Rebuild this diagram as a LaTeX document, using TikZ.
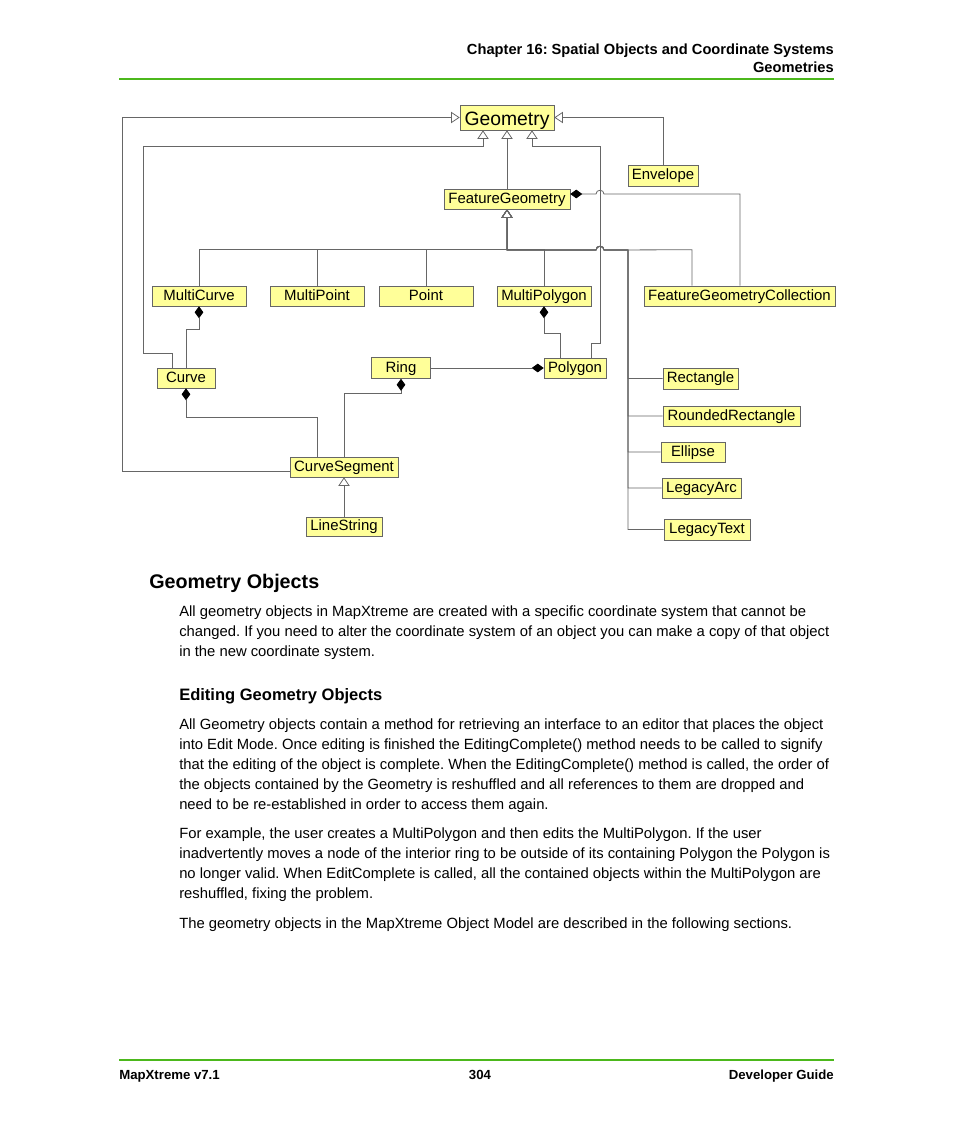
\documentclass[tikz,border=0pt]{standalone}
\usepackage{fontspec}
\setmainfont{Liberation Sans}
\usetikzlibrary{arrows.meta,calc}

\definecolor{umlfill}{HTML}{FFFF99}
\definecolor{umledge}{HTML}{666666}
\definecolor{rulegreen}{HTML}{4CB81C}

\tikzset{
  cls/.style={draw=black!60, fill=umlfill, inner sep=0pt, minimum height=15pt,
    text height=8.5pt, text depth=2.1pt, font=\fontsize{11.2}{13}\selectfont},
  inh/.style={draw=umledge, line width=.6pt, -{Triangle[open,length=6.5pt,width=8.5pt]}},
  comp/.style={draw=umledge, line width=.6pt, -{Diamond[length=9pt,width=6.5pt,color=black,fill=black]}},
  body/.style={anchor=base west, inner sep=0pt, font=\fontsize{11.1}{13}\selectfont},
  hdr/.style={inner sep=0pt, font=\fontsize{9.9}{11}\selectfont\bfseries},
}

\begin{document}
\frenchspacing
\begin{tikzpicture}[x=.75pt,y=-.75pt]
    \useasboundingbox (0,0) rectangle (954,1133);

    % page header and footer
    \node[hdr,anchor=base east,font=\fontsize{11}{12}\selectfont\bfseries] (chap) at (834,54) {Chapter 16: Spatial Objects and Coordinate Systems};
    \node[hdr,anchor=base east,font=\fontsize{11}{12}\selectfont\bfseries] (sect) at (834,72.5) {Geometries};
    \draw[rulegreen,line width=.8pt] (119,79) -- (834,79);
    \draw[rulegreen,line width=.8pt] (119,1060) -- (834,1060);
    \node[hdr,anchor=base west] (prod) at (119,1079) {MapXtreme v7.1};
    \node[hdr,anchor=base] (page) at (480,1079) {304};
    \node[hdr,anchor=base east] (guide) at (834,1079) {Developer Guide};

    % classes
    \node[cls, minimum width=70.5pt, minimum height=18.75pt, text height=12.5pt, text depth=.8pt,
          font=\fontsize{14.5}{16}\selectfont] (geom) at (507,117.5) {Geometry};
    \node[cls, minimum width=52.5pt, minimum height=15.75pt] (envelope) at (663,175.5) {Envelope};
    \node[cls, minimum width=94.5pt] (fgeom) at (507,199) {FeatureGeometry};

    \node[cls, minimum width=70.5pt] (mcurve) at (199,296) {MultiCurve};
    \node[cls, minimum width=70.5pt] (mpoint) at (317,296) {MultiPoint};
    \node[cls, minimum width=70.5pt] (point) at (426,296) {Point};
    \node[cls, minimum width=70.5pt] (mpoly) at (544,296) {MultiPolygon};
    \node[cls, minimum width=143.25pt] (fgc) at (739.5,296) {FeatureGeometryCollection};

    \node[cls, minimum width=43.5pt] (curve) at (186,378) {Curve};
    \node[cls, minimum width=44.25pt, minimum height=15.75pt] (ring) at (401,368) {Ring};
    \node[cls, minimum width=46.5pt] (polygon) at (575,368) {Polygon};
    \node[cls, minimum width=81pt] (cseg) at (344,467) {CurveSegment};
    \node[cls, minimum width=57pt, minimum height=14.25pt] (lstring) at (344,526.5) {LineString};

    \node[cls, minimum width=56.25pt, minimum height=15.75pt] (rect) at (700.5,378.5) {Rectangle};
    \node[cls, minimum width=102.75pt] (rrect) at (731.5,416) {RoundedRectangle};
    \node[cls, minimum width=48pt] (ellipse) at (693,452) {Ellipse};
    \node[cls, minimum width=59.25pt] (larc) at (701.5,488) {LegacyArc};
    \node[cls, minimum width=64.5pt, minimum height=15.75pt] (ltext) at (707,529.5) {LegacyText};

    % generalisation
    \draw[inh] (cseg.west) ++(0,4) -| (122,117.5) -- (geom.west);
    \draw[inh] ($(curve.north)+(-14,0)$) |- (143,353) |- ($(geom.south)+(-24,16)$) -- ($(geom.south)+(-24,0)$);
    \draw[inh] (fgeom.north) -- (geom.south);
    \draw[inh] ($(polygon.north)+(16,0)$) |- (600,343) |- ($(geom.south)+(25,16)$) -- ($(geom.south)+(25,0)$);
    \draw[inh] (envelope.north) |- (geom.east);

    \foreach \n in {mcurve,mpoint,point,mpoly}
        \draw[inh] (\n.north) -- ++(0,-36) -| (fgeom.south);
    \draw[inh] ($(fgc.north)+(-47.5,0)$) -- ++(0,-36) -- (604,250) .. controls (604,245) and (596,245) .. (596,250) -| (fgeom.south);
    \foreach \n in {rect,rrect,ellipse,larc,ltext}
        \draw[inh] (\n.west) -| (628,250) -- (604,250) .. controls (604,245) and (596,245) .. (596,250) -| (fgeom.south);
    \draw[inh] (lstring.north) -- (cseg.south);

    % composition
    \draw[comp] ($(fgc.north)+(.5,0)$) |- (604,194) .. controls (604,189) and (596,189) .. (596,194) -- ($(fgeom.east)+(0,-5)$);
    \draw[comp] (curve.north) |- (199,329) -- (mcurve.south);
    \draw[comp] ($(cseg.north)+(-27,0)$) |- (186,417) -- (curve.south);
    \draw[comp] (cseg.north) |- (401,393) -- (ring.south);
    \draw[comp] (ring.east) -- (polygon.west);
    \draw[comp] ($(polygon.north)+(-15,0)$) |- (544,333) -- (mpoly.south);

    % text of the page
    \node[anchor=base west, inner sep=0pt, font=\fontsize{14.8}{17}\selectfont\bfseries] (head) at (149,588) {Geometry Objects};
    \foreach \txt [count=\i] in {
        {All geometry objects in MapXtreme are created with a specific coordinate system that cannot be},
        {changed. If you need to alter the coordinate system of an object you can make a copy of that object},
        {in the new coordinate system.}}
        \node[body] (intro\i) at (179,596+20*\i) {\txt};

    \node[anchor=base west, inner sep=0pt, font=\fontsize{12.4}{14}\selectfont\bfseries] (subhead) at (179,700) {Editing Geometry Objects};
    \foreach \txt [count=\i] in {
        {All Geometry objects contain a method for retrieving an interface to an editor that places the object},
        {into Edit Mode. Once editing is finished the EditingComplete() method needs to be called to signify},
        {that the editing of the object is complete. When the EditingComplete() method is called, the order of},
        {the objects contained by the Geometry is reshuffled and all references to them are dropped and},
        {need to be re-established in order to access them again.}}
        \node[body] (edit\i) at (179,709+20*\i) {\txt};

    \foreach \txt [count=\i] in {
        {For example, the user creates a MultiPolygon and then edits the MultiPolygon. If the user},
        {inadvertently moves a node of the interior ring to be outside of its containing Polygon the Polygon is},
        {no longer valid. When EditComplete is called, all the contained objects within the MultiPolygon are},
        {reshuffled, fixing the problem.}}
        \node[body] (example\i) at (179,818+20*\i) {\txt};

    \node[body] (outro) at (179,928) {The geometry objects in the MapXtreme Object Model are described in the following sections.};
\end{tikzpicture}
\end{document}
